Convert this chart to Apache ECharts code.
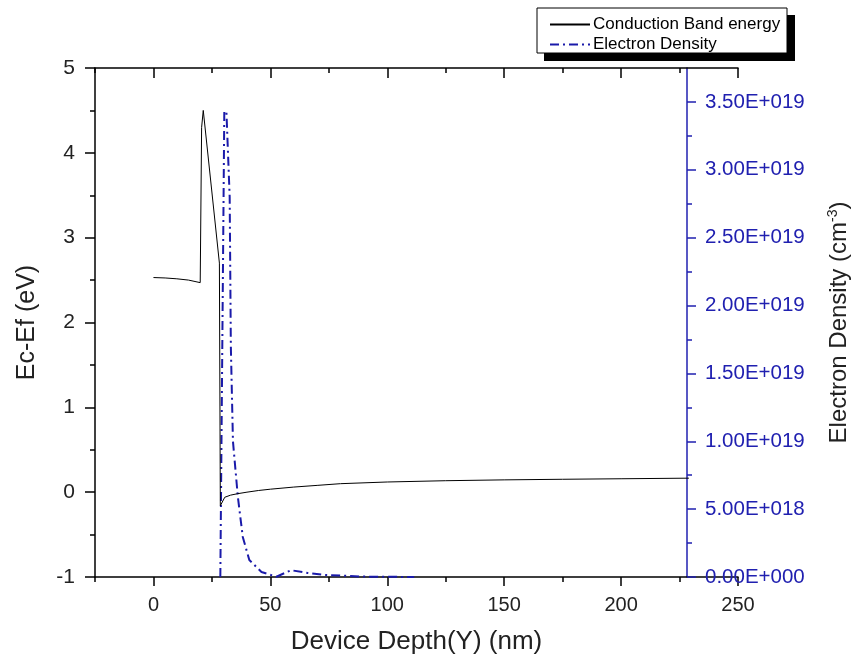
<!DOCTYPE html>
<html>
<head>
<meta charset="utf-8">
<style>
html,body{margin:0;padding:0;background:#fff;}
#chart{width:857px;height:667px;}
</style>
<script src="https://cdn.jsdelivr.net/npm/echarts@6/dist/echarts.min.js"></script>
</head>
<body>
<div id="chart"></div>
<script>
// Conduction band energy (Ec-Ef, eV) vs device depth (nm)
const bandX = [0, 5, 10, 15, 20, 20.6, 21.3, 28.2, 28.6, 30.5, 33, 36, 40, 45, 50, 60, 70, 80, 100, 125, 150, 175, 200, 229];
const bandY = [2.53, 2.525, 2.515, 2.5, 2.47, 4.3, 4.5, 2.7, -0.16, -0.06, -0.035, -0.018, 0.0, 0.02, 0.035, 0.06, 0.08, 0.1, 0.12, 0.135, 0.145, 0.152, 0.158, 0.165];
// Electron density (cm^-3) vs device depth (nm)
const densX = [28.6, 30.3, 31.2, 32.6, 33.1, 34.0, 36.1, 38.2, 41.0, 46.2, 52.6, 58.8, 66, 73, 90, 111.5];
const densY = [0, 3.43e19, 3.43e19, 2.8e19, 1.7e19, 1.0e19, 5.9e18, 2.95e18, 1.25e18, 3.7e17, 2e16, 5.0e17, 3.0e17, 1.5e17, 3e16, 0];
// tick labels
const xTickLabels = [0, 50, 100, 150, 200, 250];
const leftTicks = [-1, 0, 1, 2, 3, 4, 5];
const rightTicks = [0, 5e18, 1e19, 1.5e19, 2e19, 2.5e19, 3e19, 3.5e19];

const FONT = '"Liberation Sans", Arial, sans-serif';
const BLUE = '#2020b0';

function sci(v) {
  if (v === 0) return '0.00E+000';
  const e = Math.floor(Math.log10(Math.abs(v)) + 1e-9);
  const m = v / Math.pow(10, e);
  return m.toFixed(2) + 'E' + (e >= 0 ? '+' : '-') + String(Math.abs(e)).padStart(3, '0');
}

const chart = echarts.init(document.getElementById('chart'), null, {renderer: 'canvas'});
const gridRect = {left: 95, right: 119, top: 68, bottom: 90, containLabel: false, outerBoundsMode: 'none'};
const blackLine = {onZero: false, show: true, lineStyle: {color: '#000', width: 1.5}};
const option = {
  animation: false,
  backgroundColor: '#fff',
  grid: [Object.assign({}, gridRect), Object.assign({}, gridRect)],
  legend: {
    orient: 'vertical',
    left: 544, top: 10,
    itemWidth: 40, itemHeight: 14, itemGap: 1,
    itemStyle: {opacity: 0, borderWidth: 0},
    textStyle: {fontFamily: FONT, fontSize: 17, lineHeight: 19, color: '#000', padding: [0, 0, 0, -2]},
    data: ['Conduction Band energy', 'Electron Density'],
    z: 20
  },
  graphic: [
    {type: 'rect', shape: {x: 544, y: 15, width: 251, height: 46}, style: {fill: '#000'}, z: 10},
    {type: 'rect', shape: {x: 537, y: 8, width: 250, height: 45}, style: {fill: '#fff', stroke: '#000', lineWidth: 1}, z: 11}
  ],
  xAxis: [
    {
      gridIndex: 0, type: 'value', position: 'bottom', min: -25, max: 250, interval: 25,
      axisLine: blackLine,
      axisTick: {show: true, inside: false, length: 5, lineStyle: {color: '#000', width: 1.5}},
      axisLabel: {customValues: xTickLabels, margin: 18, fontFamily: FONT, fontSize: 20, color: '#222'},
      splitLine: {show: false},
      name: 'Device Depth(Y) (nm)', nameLocation: 'middle', nameGap: 52,
      nameTextStyle: {fontFamily: FONT, fontSize: 26, color: '#222'}
    },
    {
      gridIndex: 0, type: 'value', position: 'top', min: -25, max: 250, interval: 25,
      axisLine: blackLine,
      axisTick: {show: true, inside: true, length: 5, lineStyle: {color: '#000', width: 1.5}},
      axisLabel: {show: false}, splitLine: {show: false}
    },
    {
      gridIndex: 1, type: 'value', position: 'bottom', min: -25, max: 250,
      axisLine: {show: false, onZero: false},
      axisTick: {show: true, inside: false, length: 9, customValues: xTickLabels, lineStyle: {color: '#000', width: 1.5}},
      axisLabel: {show: false}, splitLine: {show: false}
    },
    {
      gridIndex: 1, type: 'value', position: 'top', min: -25, max: 250,
      axisLine: {show: false, onZero: false},
      axisTick: {show: true, inside: true, length: 10, customValues: xTickLabels, lineStyle: {color: '#000', width: 1.5}},
      axisLabel: {show: false}, splitLine: {show: false}
    }
  ],
  yAxis: [
    {
      gridIndex: 0, type: 'value', position: 'left', min: -1, max: 5, interval: 1,
      axisLine: blackLine,
      axisTick: {show: true, inside: false, length: 10, lineStyle: {color: '#000', width: 1.5}},
      minorTick: {show: true, splitNumber: 2, length: 5, lineStyle: {color: '#000', width: 1.5}},
      axisLabel: {margin: 20, fontFamily: FONT, fontSize: 21, color: '#222',
        formatter: v => leftTicks.indexOf(v) >= 0 ? String(v) : ''},
      splitLine: {show: false}, minorSplitLine: {show: false},
      name: 'Ec-Ef (eV)', nameLocation: 'middle', nameGap: 55, nameRotate: 90,
      nameTextStyle: {fontFamily: FONT, fontSize: 25, color: '#222'}
    },
    {
      gridIndex: 0, type: 'value', position: 'right', offset: -51, min: 0, max: 3.75e19, interval: 2.5e18,
      axisLine: {onZero: false, show: true, lineStyle: {color: BLUE, width: 1.5}},
      axisTick: {show: true, inside: false, length: 5, lineStyle: {color: BLUE, width: 1.5}},
      axisLabel: {margin: 18, fontFamily: FONT, fontSize: 20.5, color: BLUE, showMaxLabel: false,
        formatter: v => (Math.round(v / 2.5e18) % 2 === 0 && v < 3.6e19) ? sci(v) : ''},
      splitLine: {show: false},
      name: 'Electron Density (cm{sup|-3})', nameLocation: 'middle', nameGap: 139, nameRotate: 90,
      nameTextStyle: {fontFamily: FONT, fontSize: 24, color: '#222',
        rich: {sup: {fontFamily: FONT, fontSize: 14, color: '#222', verticalAlign: 'top', padding: [0, 0, 12, 0]}}}
    },
    {
      gridIndex: 1, type: 'value', position: 'left', min: -1, max: 5,
      show: false, axisLine: {onZero: false}
    },
    {
      gridIndex: 1, type: 'value', position: 'right', offset: -51, min: 0, max: 3.75e19,
      axisLine: {show: false, onZero: false},
      axisTick: {show: true, inside: false, length: 9, customValues: rightTicks, lineStyle: {color: BLUE, width: 1.5}},
      axisLabel: {show: false}, splitLine: {show: false}
    }
  ],
  series: [
    {
      name: 'Conduction Band energy', type: 'line', xAxisIndex: 0, yAxisIndex: 0,
      data: bandX.map((x, i) => [x, bandY[i]]),
      showSymbol: false, symbol: 'none', smooth: false,
      lineStyle: {color: '#000', width: 1},
      itemStyle: {color: '#000'}, z: 3
    },
    {
      name: 'Electron Density', type: 'line', xAxisIndex: 0, yAxisIndex: 1,
      data: densX.map((x, i) => [x, densY[i]]),
      showSymbol: false, symbol: 'none', smooth: false,
      lineStyle: {color: '#1a1aaa', width: 2, type: [9, 4, 2, 4]},
      itemStyle: {color: '#1a1aaa'}, z: 2
    }
  ]
};
chart.setOption(option);
</script>
</body>
</html>
